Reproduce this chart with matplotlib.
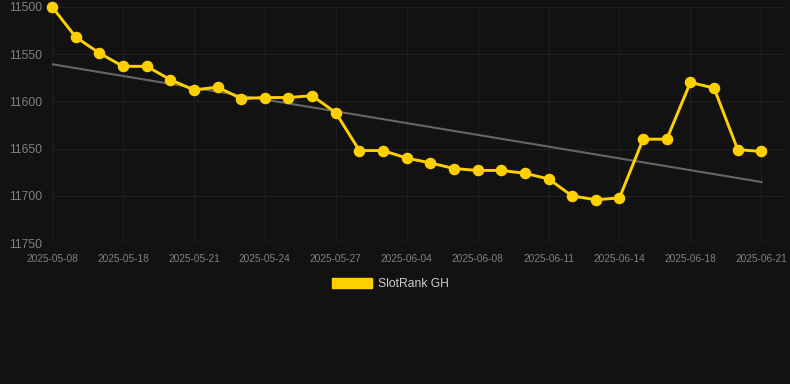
import numpy as np
import matplotlib.pyplot as plt
from matplotlib.patches import Patch

plt.rcParams['font.family'] = ['Liberation Sans', 'DejaVu Sans']

tick_labels = ['2025-05-08', '2025-05-18', '2025-05-21', '2025-05-24', '2025-05-27',
               '2025-06-04', '2025-06-08', '2025-06-11', '2025-06-14', '2025-06-18',
               '2025-06-21']
rank = [11500, 11532, 11549, 11563, 11563, 11577, 11588, 11585, 11597, 11596,
        11596, 11594, 11612, 11652, 11652, 11660, 11665, 11671, 11673, 11673,
        11676, 11682, 11700, 11704, 11702, 11640, 11640, 11580, 11586, 11651,
        11653]
series_name = 'SlotRank GH'

bg = '#121212'
x = np.arange(len(rank))

fig = plt.figure(figsize=(7.9, 3.84), dpi=100, facecolor=bg)
ax = fig.add_axes([52 / 790, 1 - 243.3 / 384, (785 - 52) / 790, (243.3 - 6.7) / 384])
ax.set_facecolor(bg)

# trend line (least squares)
k, b = np.polyfit(x, rank, 1)
ax.plot(x, k * x + b, color='#666666', lw=1.5, zorder=2)

ax.plot(x, rank, color='#FFD000', lw=2.1, marker='o', ms=7.3,
        zorder=3, clip_on=False)

ax.set_ylim(11750, 11500)
ax.set_yticks([11500, 11550, 11600, 11650, 11700, 11750])
ax.set_xlim(0, 31)
ax.set_xticks(x[::3])
ax.set_xticklabels(tick_labels)

ax.grid(True, color='#1f1f1f', lw=0.8)
for s in ax.spines.values():
    s.set_visible(False)
ax.axhline(11750, color='#2e2e2e', lw=1, zorder=1)
ax.tick_params(axis='both', length=0, colors='#808080')
ax.tick_params(axis='y', labelsize=8.8, pad=7)
ax.tick_params(axis='x', labelsize=7.3, pad=8)

ax.legend(handles=[Patch(color='#FFD000', label=series_name)], loc='upper center',
          bbox_to_anchor=(0.462, -0.1), frameon=False, fontsize=8.7,
          handlelength=3.3, handleheight=0.9, handletextpad=0.5,
          labelcolor='#cccccc')

fig.savefig('out.png', dpi=100, facecolor=bg)
